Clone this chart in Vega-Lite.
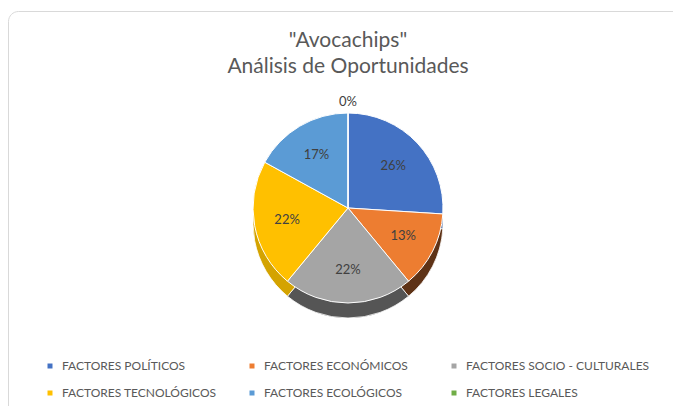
{
  "$schema": "https://vega.github.io/schema/vega-lite/v6.json",
  "width": 680,
  "height": 410,
  "autosize": {"type": "none"},
  "padding": {"left": 8, "top": 11, "right": -15, "bottom": -15},
  "background": "white",
  "view": {"stroke": "#d9d9d9", "strokeWidth": 1, "cornerRadius": 10, "fill": "white"},
  "config": {
    "font": "Lato"
  },
  "title": {
    "text": ["\"Avocachips\"", "Análisis de Oportunidades"],
    "font": "Lato",
    "fontSize": 21,
    "fontWeight": "normal",
    "color": "#595959",
    "lineHeight": 26,
    "anchor": "middle",
    "offset": -66
  },
  "data": {
    "values": [
      {"factor": "FACTORES POLÍTICOS", "valor": 0.26, "orden": 1},
      {"factor": "FACTORES ECONÓMICOS", "valor": 0.13, "orden": 2},
      {"factor": "FACTORES SOCIO - CULTURALES", "valor": 0.22, "orden": 3},
      {"factor": "FACTORES TECNOLÓGICOS", "valor": 0.22, "orden": 4},
      {"factor": "FACTORES ECOLÓGICOS", "valor": 0.17, "orden": 5},
      {"factor": "FACTORES LEGALES", "valor": 0, "orden": 6}
    ]
  },
  "layer": [
    {
      "mark": {"type": "arc", "radius": 95, "yOffset": 7, "stroke": "white", "strokeWidth": 0.8},
      "encoding": {
        "theta": {"field": "valor", "type": "quantitative", "stack": true},
        "order": {"field": "orden", "type": "quantitative"},
        "color": {
          "field": "factor",
          "type": "nominal",
          "scale": {
            "domain": ["FACTORES POLÍTICOS", "FACTORES ECONÓMICOS", "FACTORES SOCIO - CULTURALES", "FACTORES TECNOLÓGICOS", "FACTORES ECOLÓGICOS", "FACTORES LEGALES"],
            "range": ["#2f5597", "#5e3216", "#555555", "#d4a300", "#2e75b6", "#507e32"]
          },
          "legend": null
        }
      }
    },
    {
      "mark": {"type": "arc", "radius": 95, "yOffset": -8, "stroke": "white", "strokeWidth": 1},
      "encoding": {
        "theta": {"field": "valor", "type": "quantitative", "stack": true},
        "order": {"field": "orden", "type": "quantitative"},
        "color": {
          "field": "factor",
          "type": "nominal",
          "scale": {
            "domain": ["FACTORES POLÍTICOS", "FACTORES ECONÓMICOS", "FACTORES SOCIO - CULTURALES", "FACTORES TECNOLÓGICOS", "FACTORES ECOLÓGICOS", "FACTORES LEGALES"],
            "range": ["#4472c4", "#ed7d31", "#a5a5a5", "#ffc000", "#5b9bd5", "#70ad47"]
          },
          "legend": {
            "orient": "none",
            "legendX": 36,
            "legendY": 349,
            "direction": "horizontal",
            "columns": 3,
            "gridAlign": "all",
            "title": null,
            "symbolType": "square",
            "symbolSize": 25,
            "symbolStrokeWidth": 0,
            "labelFont": "Lato",
            "labelFontSize": 12,
            "labelColor": "#595959",
            "labelOffset": 6,
            "labelLimit": 400,
            "rowPadding": 15,
            "columnPadding": 0
          }
        }
      }
    },
    {
      "transform": [{"filter": "datum.valor > 0"}],
      "mark": {"type": "text", "radius": 62, "yOffset": -8, "font": "Lato", "fontSize": 13, "color": "#404040"},
      "encoding": {
        "theta": {"field": "valor", "type": "quantitative", "stack": true},
        "order": {"field": "orden", "type": "quantitative"},
        "text": {"field": "valor", "type": "quantitative", "format": ".0%"}
      }
    },
    {
      "transform": [{"filter": "datum.valor == 0"}],
      "mark": {"type": "text", "radius": 106, "yOffset": -8, "font": "Lato", "fontSize": 13, "color": "#404040"},
      "encoding": {
        "theta": {"field": "valor", "type": "quantitative", "stack": true},
        "order": {"field": "orden", "type": "quantitative"},
        "text": {"field": "valor", "type": "quantitative", "format": ".0%"}
      }
    }
  ],
  "resolve": {"scale": {"color": "independent"}}
}
